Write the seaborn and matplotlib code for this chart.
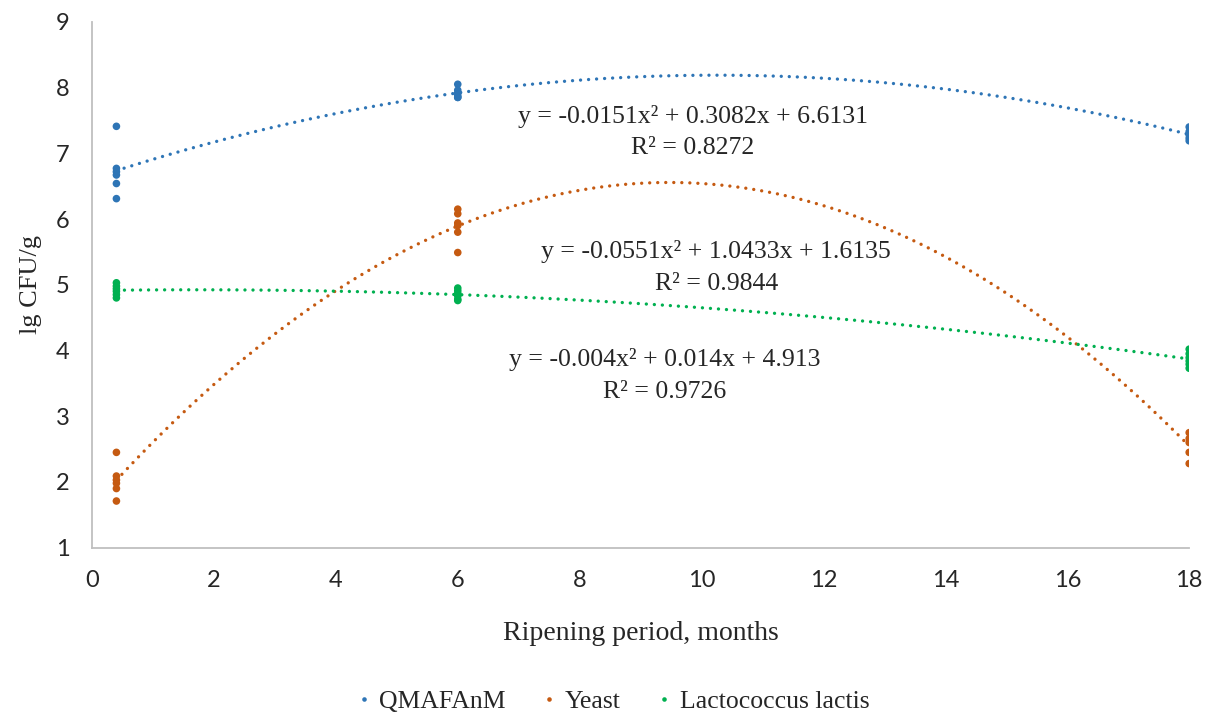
import numpy as np
import pandas as pd
import seaborn as sns
import matplotlib.pyplot as plt

sns.set_style("white")

# ripening period (months) and lg CFU/g readings per group
months = [0.4, 6, 18]
qmafanm = [
    [7.41, 6.77, 6.72, 6.67, 6.54, 6.31],
    [8.05, 7.96, 7.92, 7.88, 7.85, 7.85],
    [7.40, 7.33, 7.28, 7.23, 7.19],
]
yeast = [
    [2.45, 2.09, 2.03, 1.98, 1.90, 1.71],
    [6.15, 6.08, 5.94, 5.90, 5.80, 5.49],
    [2.75, 2.66, 2.60, 2.45, 2.28],
]
lactis = [
    [5.03, 4.98, 4.94, 4.90, 4.85, 4.80],
    [4.95, 4.91, 4.87, 4.83, 4.78, 4.76],
    [4.02, 3.95, 3.89, 3.84, 3.79, 3.73],
]
groups = ["QMAFAnM", "Yeast", "Lactococcus lactis"]
colors = ["#2E75B6", "#C55A11", "#00B050"]

equations = [
    "y = -0.0151x² + 0.3082x + 6.6131\nR² = 0.8272",
    "y = -0.0551x² + 1.0433x + 1.6135\nR² = 0.9844",
    "y = -0.004x² + 0.014x + 4.913\nR² = 0.9726",
]
eq_pos = [(9.86, 7.32), (10.24, 5.26), (9.39, 3.62)]

rows = []
for name, series in zip(groups, [qmafanm, yeast, lactis]):
    for m, vals in zip(months, series):
        for v in vals:
            rows.append({"month": m, "value": v, "group": name})
df = pd.DataFrame(rows)

serif = ["Liberation Serif", "DejaVu Serif"]

fig = plt.figure(figsize=(12.11, 7.15), dpi=100)
ax = fig.add_axes([0.076, 0.234, 0.906, 0.7355])

for name, col in zip(groups, colors):
    sub = df[df["group"] == name]
    sns.regplot(
        data=sub, x="month", y="value", order=2, ci=None, scatter=False, ax=ax,
        line_kws={"color": col, "lw": 2.4, "ls": (0, (0.01, 2.4)),
                  "dash_capstyle": "round"},
    )

sns.scatterplot(
    data=df, x="month", y="value", hue="group", palette=colors,
    s=30, edgecolor="none", ax=ax, zorder=3,
)

for txt, (x, y) in zip(equations, eq_pos):
    ax.text(x, y, txt, ha="center", va="center", fontsize=18.5,
            family=serif, linespacing=1.55)

ax.set_xlim(0, 18)
ax.set_ylim(1, 9)
ax.set_xticks(range(0, 19, 2))
ax.set_yticks(range(1, 10))
ax.tick_params(axis="both", length=0, labelsize=17)
ax.tick_params(axis="x", pad=16)
ax.tick_params(axis="y", pad=16)
for lab in ax.get_xticklabels() + ax.get_yticklabels():
    lab.set_family(["Lato", "DejaVu Sans"])

sns.despine(ax=ax)
for sp in ["left", "bottom"]:
    ax.spines[sp].set_color("#BFBFBF")
    ax.spines[sp].set_linewidth(1.3)

ax.set_xlabel("Ripening period, months", fontsize=20, family=serif, labelpad=22)
ax.set_ylabel("lg CFU/g", fontsize=19, family=serif, labelpad=10)

handles, labels = ax.get_legend_handles_labels()
ax.legend_.remove()
fig.legend(handles, labels, loc="lower center", bbox_to_anchor=(0.505, -0.03),
           ncol=3, frameon=False, prop={"family": serif, "size": 18.5},
           markerscale=0.6, handlelength=0.8, handletextpad=0.2,
           columnspacing=1.3)

fig.savefig("out.png", dpi=100)
